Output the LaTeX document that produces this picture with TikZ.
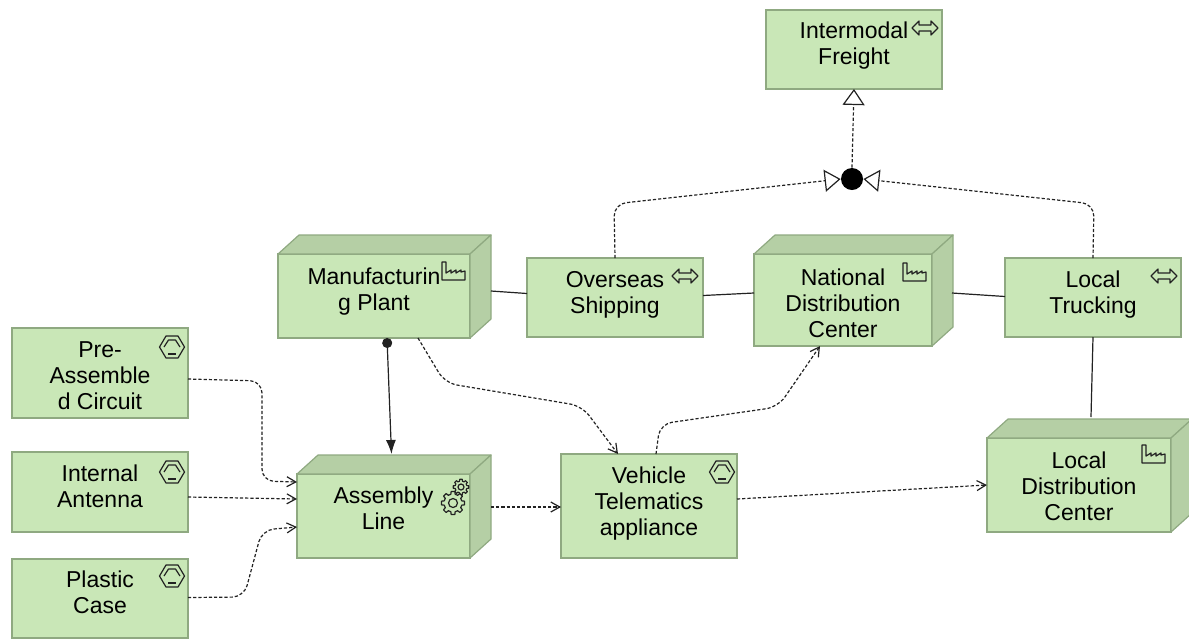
\documentclass[tikz,border=0pt]{standalone}
\usepackage{fontspec}
\setmainfont{Liberation Sans}
\usetikzlibrary{arrows.meta}

\definecolor{boxgreen}{HTML}{C9E7B7}
\definecolor{boxedge}{HTML}{8FA981}
\definecolor{roofgreen}{HTML}{B5CFA5}
\definecolor{linegrey}{HTML}{222222}

\tikzset{
    elem/.style 2 args={draw=boxedge, fill=boxgreen, line width=0.6pt, inner sep=0pt, outer sep=0pt,
        minimum width=#1*0.5pt, minimum height=#2*0.5pt, align=center,
        font=\fontsize{11.5}{13}\selectfont},
    roof/.style={draw=boxedge, fill=roofgreen, line width=0.6pt, line join=round},
    icon/.style={draw=linegrey, line width=0.6pt, line join=round},
    flow/.style={draw=linegrey, line width=0.6pt, dash pattern=on 1.6pt off 1pt, rounded corners=6pt,
        -{Straight Barb[length=4.5pt,width=5pt]}},
    realize/.style={draw=linegrey, line width=0.6pt, dash pattern=on 1.6pt off 1pt, rounded corners=6pt,
        -{Triangle[open,fill=white,length=8pt,width=11pt]}},
    assoc/.style={draw=linegrey, line width=0.6pt},
    pics/factory/.style={code={
        \draw[icon] (0,0) -- (4,0) -- (4,11) -- (9,8) -- (9,11) -- (14,8) -- (14,11) -- (19,8) -- (19,10) -- (23,9)
            -- (23,18) -- (0,18) -- cycle;
    }},
    pics/twoway/.style={code={
        \draw[icon] (-13,0) -- (-6,-7) -- (-6,-3) -- (6,-3) -- (6,-7) -- (13,0) -- (6,7) -- (6,3) -- (-6,3) -- (-6,7) -- cycle;
    }},
    pics/material/.style={code={
        \draw[icon] (-12.5,0) -- (-6,-11) -- (6,-11) -- (12.5,0) -- (6,11) -- (-6,11) -- cycle;
        \draw[icon] (-8,0) -- (-3.5,-7) -- (3.5,-7) -- (8,0);
        \draw[icon] (-4,7) -- (4,7);
    }},
    pics/gear/.style={code={
        \draw[icon, fill=boxgreen] (-14:#1) \foreach \a in {0,45,...,315} {
            -- (\a-14:#1) -- (\a-9:1.3*#1) -- (\a+9:1.3*#1) -- (\a+14:#1) } -- cycle;
        \draw[icon] (0,0) circle (0.5*#1);
    }},
}

% roof and side of a node drawn as a box
\newcommand{\boxfaces}[1]{
    \draw[roof] (#1.north west) -- ++(21,-19) -- ([xshift=10.5pt,yshift=9.5pt]#1.north east) -- (#1.north east) -- cycle;
    \draw[roof] (#1.north east) -- ++(21,-19) -- ([xshift=10.5pt,yshift=9.5pt]#1.south east) -- (#1.south east) -- cycle;
}

\begin{document}
\begin{tikzpicture}[x=0.5pt, y=-0.5pt]

    \useasboundingbox (0,0) rectangle (1189,639);

    % Elements with a plain face
    \node[elem={176}{79}] (freight) at (854,49.5) {Intermodal\\Freight\\[-6.5pt]};
    \node[elem={176}{79}] (shipping) at (615,297.5) {Overseas\\Shipping\\[-7.5pt]};
    \node[elem={176}{79}] (trucking) at (1093,297.5) {Local\\Trucking\\[-7.5pt]};
    \node[elem={176}{90}] (circuit) at (100,373) {\rule{0pt}{10.9pt}Pre-\\Assemble\\d Circuit};
    \node[elem={176}{80}] (antenna) at (100,492) {Internal\\Antenna\\[-7pt]};
    \node[elem={176}{79}] (case) at (100,598.5) {Plastic\\Case\\[-6.5pt]};
    \node[elem={176}{104}] (vehicle) at (649,506) {Vehicle\\Telematics\\appliance\\[-8pt]};

    % Elements with a box around the face
    \node[elem={192}{84}] (plant) at (374,296) {Manufacturin\\g Plant\\[-6pt]};
    \node[elem={178}{92}] (national) at (843,300) {\rule{0pt}{11.4pt}National\\Distribution\\Center};
    \node[elem={173}{84}] (line) at (383.5,516) {Assembly\\Line\\[-5pt]};
    \node[elem={184}{94}] (localdc) at (1079,485) {\rule{0pt}{9.4pt}Local\\Distribution\\Center};

    \boxfaces{plant}
    \boxfaces{national}
    \boxfaces{line}
    \boxfaces{localdc}

    % Junction
    \node[circle, fill=black, inner sep=0pt, minimum size=11pt] (join) at (852,179) {};

    % Icons
    \pic at (925,28) {twoway};
    \pic at (685,276) {twoway};
    \pic at (1164,276) {twoway};
    \pic at (172,347) {material};
    \pic at (172,472) {material};
    \pic at (172,576) {material};
    \pic at (722,472) {material};
    \pic at (442,262) {factory};
    \pic at (903,263) {factory};
    \pic at (1142,445) {factory};
    \pic at (461,487) {gear=6};
    \pic at (453,503) {gear=9};

    % Solid associations
    \draw[assoc] ([xshift=10.5pt,yshift=2.5pt]plant.east) -- ([yshift=2pt]shipping.west);
    \draw[assoc] ([yshift=1pt]shipping.east) -- ([yshift=3.5pt]national.west);
    \draw[assoc] ([xshift=10pt,yshift=3.5pt]national.east) -- ([yshift=0.5pt]trucking.west);
    \draw[assoc] (trucking.south) -- ([xshift=6pt,yshift=10.5pt]localdc.north);

    % Composition from the plant
    \draw[assoc, {Circle[length=5pt]}-{Latex[length=7pt,width=5pt]}]
        ([xshift=6.5pt]plant.south) -- ([xshift=4pt,yshift=10pt]line.north);

    % Flows
    \draw[flow] ([yshift=-3pt]circuit.east) -- (262,381) -- (262,481) -- ([yshift=17pt]line.west);
    \draw[flow] ([yshift=-2.5pt]antenna.east) -- ([yshift=8.5pt]line.west);
    \draw[flow] ([yshift=0.5pt]case.east) -- (244,597) -- (262,530) -- ([yshift=-5.5pt]line.west);
    \draw[flow] ([xshift=22pt]plant.south) -- (445,383) -- (582,406) -- ([xshift=-15.5pt]vehicle.north);
    \draw[flow] ([xshift=10.5pt,yshift=4.5pt]line.east) -- ([yshift=-0.5pt]vehicle.west);
    \draw[flow] ([xshift=3.5pt]vehicle.north) -- (660,424) -- (778,407) -- ([xshift=-11.5pt]national.south);
    \draw[flow] ([yshift=3.5pt]vehicle.east) -- (localdc.west);

    % Realizations through the junction
    \draw[realize] (shipping.north) -- (614,204) -- (join.west);
    \draw[realize] (trucking.north) -- (1094,204) -- (join.east);
    \draw[realize] (join.north) -- (freight.south);

\end{tikzpicture}
\end{document}
